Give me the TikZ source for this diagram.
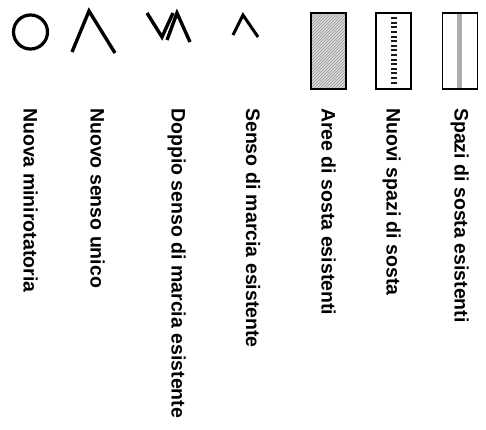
\documentclass[tikz,border=0pt]{standalone}
\usepackage{fontspec}
\setmainfont{Liberation Sans}
\usetikzlibrary{patterns}

\begin{document}
\begin{tikzpicture}[x=1pt, y=-1pt,
  sym/.style={line width=3.4pt, line join=miter},
  lab/.style={rotate=-90, anchor=base west, inner sep=0pt,
    font=\fontsize{19.5}{22}\selectfont\bfseries},
  slot/.style={draw, line width=1.5pt, minimum width=35pt,
    minimum height=76pt, inner sep=0pt}]
  \useasboundingbox (0,0) rectangle (486,429);

  % symbols
  \node[circle, draw, line width=3.2pt, minimum size=34pt, inner sep=0pt] (rot) at (30.5,32) {};
  \draw[sym] (72,52) -- (89,11) -- (115,53);
  \draw[sym] (147,13) -- (162,37) -- (173,13);
  \draw[sym] (167,40) -- (177,13) -- (190,42);
  \draw[sym, line width=3pt] (233,35) -- (243,15) -- (258,37);

  \node[slot, preaction={fill=gray!30}, pattern=north east lines,
    pattern color=gray!80] (aree) at (328.5,51) {};
  \node[slot] (nuovi) at (393.5,51) {};
  \draw[line width=6pt, dash pattern=on 2pt off 2.6pt, black!90]
    ([yshift=-5pt]nuovi.north) -- ([yshift=4pt]nuovi.south);
  \node[slot] (spazi) at (460,51) {};
  \fill[gray!65] ([xshift=-3.5pt]spazi.north) rectangle ([xshift=1.5pt]spazi.south);
  \node[slot] at (spazi) {};

  % labels
  \node[lab] (lrot) at (23.5,108) {Nuova minirotatoria};
  \node[lab] (lunico) at (90.5,108) {Nuovo senso unico};
  \node[lab] (ldoppio) at (171.5,108) {Doppio senso di marcia esistente};
  \node[lab] (lmarcia) at (246,108) {Senso di marcia esistente};
  \node[lab] (laree) at (321.5,108) {Aree di sosta esistenti};
  \node[lab] (lnuovi) at (386.5,108) {Nuovi spazi di sosta};
  \node[lab] (lspazi) at (454.5,108) {Spazi di sosta esistenti};
\end{tikzpicture}
\end{document}
